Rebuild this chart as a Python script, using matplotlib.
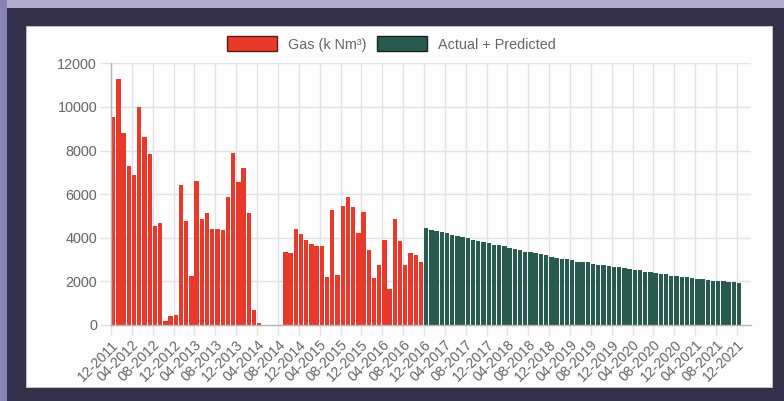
import matplotlib
matplotlib.use('Agg')
import matplotlib.pyplot as plt
from matplotlib.patches import Patch, Rectangle
import numpy as np

# monthly gas production, 12-2011 .. 11-2016 (k Nm3)
gas_actual = [9530, 11260, 8800, 7280, 6880, 9980, 8630, 7830, 4520, 4690,
              180, 410, 480, 6440, 4750, 2250, 6600, 4860, 5130, 4400,
              4400, 4350, 5880, 7880, 6540, 7220, 5130, 690, 80, 0,
              0, 0, 0, 3340, 3280, 4400, 4180, 3890, 3720, 3600,
              3600, 2190, 5260, 2300, 5470, 5870, 5410, 4230, 5200, 3450,
              2150, 2770, 3890, 1640, 4840, 3830, 2770, 3280, 3220, 2880]

# actual + predicted, 12-2016 .. 12-2021
predicted = [4440, 4370, 4310, 4260, 4200, 4140, 4080, 4020, 3970, 3910,
             3830, 3790, 3740, 3690, 3650, 3600, 3540, 3480, 3420, 3370,
             3330, 3280, 3260, 3200, 3140, 3080, 3030, 3020, 2960, 2900,
             2870, 2870, 2820, 2760, 2740, 2710, 2670, 2640, 2620, 2560,
             2530, 2500, 2450, 2420, 2380, 2360, 2330, 2250, 2240, 2210,
             2180, 2150, 2120, 2100, 2080, 2040, 2020, 2010, 1980, 1950,
             1920]

tick_labels = ['12-2011', '04-2012', '08-2012', '12-2012', '04-2013', '08-2013',
               '12-2013', '04-2014', '08-2014', '12-2014', '04-2015', '08-2015',
               '12-2015', '04-2016', '08-2016', '12-2016', '04-2017', '08-2017',
               '12-2017', '04-2018', '08-2018', '12-2018', '04-2019', '08-2019',
               '12-2019', '04-2020', '08-2020', '12-2020', '04-2021', '08-2021',
               '12-2021']

y_ticks = [0, 2000, 4000, 6000, 8000, 10000, 12000]

RED = '#e8392b'
GREEN = '#285a50'
TEXT = '#666666'
GRID = '#e2e2e2'

plt.rcParams['font.family'] = ['Liberation Sans', 'DejaVu Sans']

fig = plt.figure(figsize=(7.84, 4.01), dpi=100, facecolor='#33324a')

# photo edges around the dark frame
fig.patches.append(Rectangle((0, 1 - 8 / 401), 1, 8 / 401, transform=fig.transFigure,
                             facecolor='#b3accd', edgecolor='none', zorder=-3))
fig.patches.append(Rectangle((0, 0), 7 / 784, 1, transform=fig.transFigure,
                             facecolor='#8784b5', edgecolor='none', zorder=-3))
# white chart panel
fig.patches.append(Rectangle((26 / 784, 14 / 401), 746 / 784, 361 / 401,
                             transform=fig.transFigure, facecolor='#fdfdfd',
                             edgecolor='#c8c8c8', linewidth=0.6, zorder=-2))

ax = fig.add_axes([111 / 784, 76 / 401, 640 / 784, 261.7 / 401])
ax.set_facecolor('none')

x_gas = np.arange(len(gas_actual))
x_pred = np.arange(len(gas_actual), len(gas_actual) + len(predicted))
ax.bar(x_gas, gas_actual, width=0.84, align='edge', color=RED, linewidth=0)
ax.bar(x_pred, predicted, width=0.84, align='edge', color=GREEN, linewidth=0)

ax.set_xlim(0, 122.7)
ax.set_ylim(0, 12000)
ax.set_yticks(y_ticks)
ax.set_xticks(np.arange(0, 4 * len(tick_labels), 4))
ax.set_xticklabels(tick_labels, rotation=45, ha='right', rotation_mode='anchor')

ax.set_axisbelow(True)
ax.grid(True, color=GRID, linewidth=1)
for s in ['top', 'right']:
    ax.spines[s].set_visible(False)
for s in ['left', 'bottom']:
    ax.spines[s].set_color('#b5b5b5')
    ax.spines[s].set_linewidth(1)
ax.tick_params(axis='y', length=8, color=GRID, width=1, pad=2,
               labelsize=10.4, labelcolor=TEXT)
ax.tick_params(axis='x', length=7, color=GRID, width=1, pad=2,
               labelsize=10.2, labelcolor=TEXT)

handles = [Patch(facecolor=RED, edgecolor='#5a1a14', linewidth=1),
           Patch(facecolor=GREEN, edgecolor='#15241f', linewidth=1)]
fig.legend(handles, ['Gas (k Nm³)', 'Actual + Predicted'], loc='center',
           bbox_to_anchor=(0.499, 0.890), ncol=2, frameon=False,
           fontsize=10.4, labelcolor=TEXT, handlelength=3.45, handleheight=1.2,
           handletextpad=0.76, columnspacing=0.76)

fig.savefig('out.png', dpi=100, facecolor=fig.get_facecolor())
